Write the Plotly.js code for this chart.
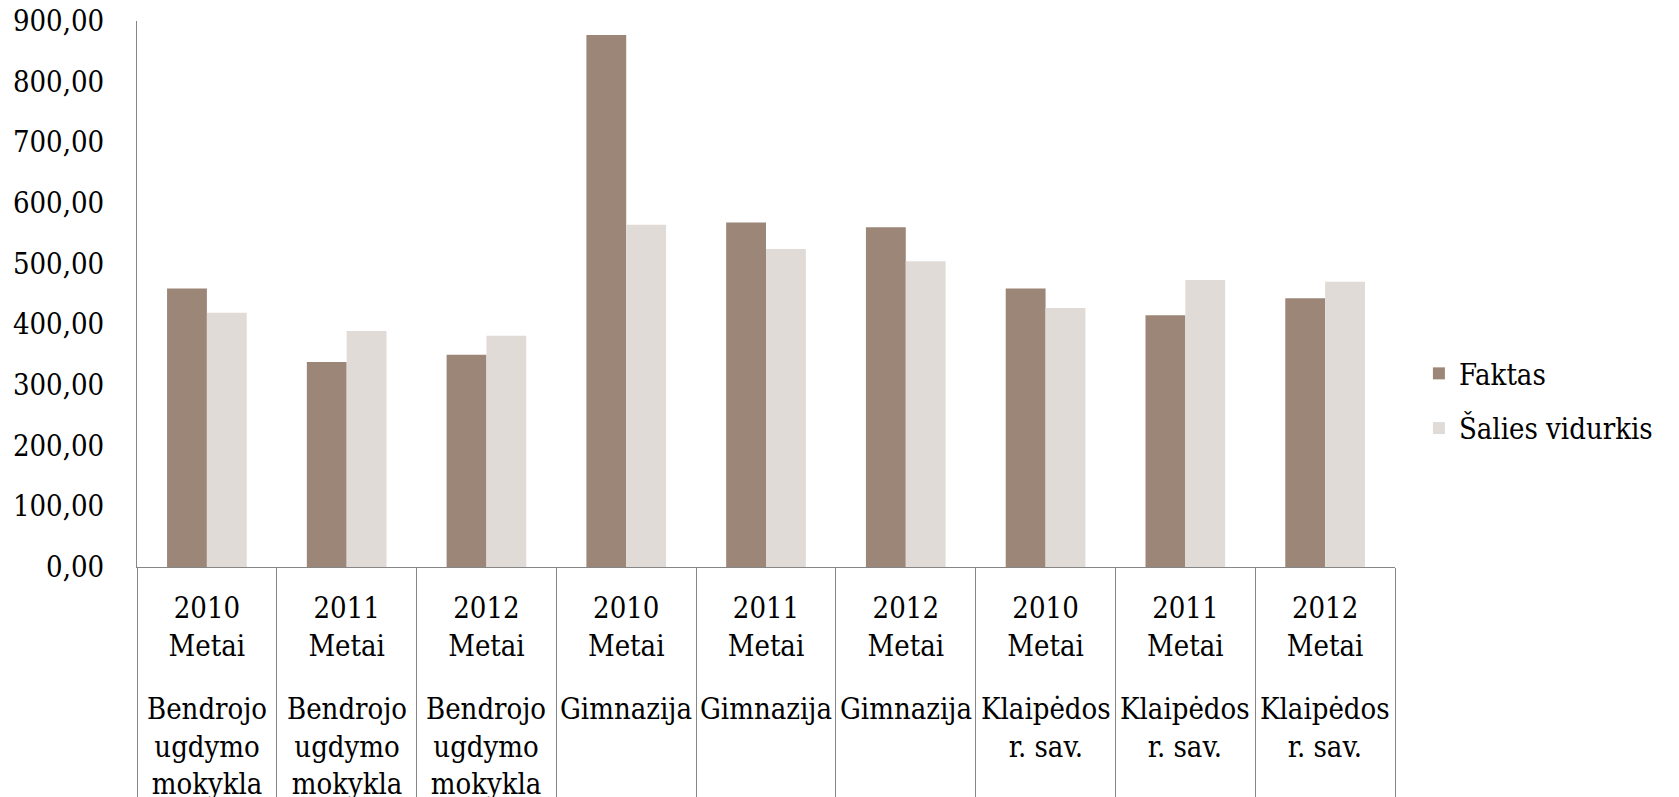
<!DOCTYPE html>
<html>
<head>
<meta charset="utf-8">
<script src="https://cdn.plot.ly/plotly-3.0.1.min.js"></script>
<style>
  html, body { margin: 0; padding: 0; background: #ffffff; }
  #chart { width: 1679px; height: 797px; }
</style>
</head>
<body>
<div id="chart"></div>
<script>
// ---- data ----
const years = ['2010', '2011', '2012', '2010', '2011', '2012', '2010', '2011', '2012'];
const groups = [
  'Bendrojo<br>ugdymo<br>mokykla', 'Bendrojo<br>ugdymo<br>mokykla', 'Bendrojo<br>ugdymo<br>mokykla',
  'Gimnazija', 'Gimnazija', 'Gimnazija',
  'Klaipėdos<br>r. sav.', 'Klaipėdos<br>r. sav.', 'Klaipėdos<br>r. sav.'
];
const yearSuffix = 'Metai';
const faktas = [459, 338, 350, 877, 568, 560, 459, 415, 443];
const saliesVidurkis = [419, 389, 381, 564, 524, 504, 427, 473, 470];
const seriesNames = ['Faktas', 'Šalies vidurkis'];
const yTicks = [0, 100, 200, 300, 400, 500, 600, 700, 800, 900];

// ---- build ----
const FONT = 'DejaVu Serif Condensed, Liberation Serif, serif';
const keys = years.map((y, i) => y + ' ' + groups[i].replace(/<br>/g, ' '));
const tickText = years.map(y => y + '<br>' + yearSuffix);

const traces = [
  {
    type: 'bar', name: seriesNames[0], x: keys, y: faktas,
    marker: { color: '#9C8678' }, legendgroup: 'a', hoverinfo: 'skip'
  },
  {
    type: 'bar', name: seriesNames[1], x: keys, y: saliesVidurkis,
    marker: { color: '#E0DBD7' }, legendgroup: 'b', hoverinfo: 'skip'
  }
];

const annotations = keys.map((k, i) => ({
  x: k, xref: 'x', y: -0.226, yref: 'paper', yanchor: 'top', xanchor: 'center',
  text: groups[i], showarrow: false,
  font: { family: FONT, size: 29, color: '#000000' }
}));

const layout = {
  width: 1679, height: 797,
  paper_bgcolor: '#ffffff', plot_bgcolor: '#ffffff',
  margin: { l: 137, r: 284, t: 21, b: 230 },
  barmode: 'group', bargap: 0.43, bargroupgap: 0,
  font: { family: FONT, size: 29, color: '#000000' },
  xaxis: {
    type: 'category',
    tickmode: 'array', tickvals: keys, ticktext: tickText,
    tickson: 'boundaries', ticks: 'outside', ticklen: 240, tickwidth: 1, tickcolor: '#868686',
    ticklabelstandoff: 15,
    showline: true, linecolor: '#868686', linewidth: 1,
    showgrid: false, zeroline: false,
    tickfont: { family: FONT, size: 29, color: '#000000' },
    fixedrange: true
  },
  yaxis: {
    range: [0, 900], tickmode: 'array', tickvals: yTicks,
    tickformat: '.2f', ticks: '', ticklabelstandoff: 26,
    showline: true, linecolor: '#868686', linewidth: 1,
    showgrid: false, zeroline: false,
    tickfont: { family: FONT, size: 29, color: '#000000' },
    fixedrange: true
  },
  separators: ', ',
  showlegend: true,
  legend: {
    x: 1.019, xanchor: 'left', y: 0.304, yanchor: 'middle',
    traceorder: 'grouped', tracegroupgap: 14,
    font: { family: FONT, size: 29, color: '#000000' },
    bgcolor: 'rgba(0,0,0,0)'
  },
  annotations: annotations
};

Plotly.newPlot('chart', traces, layout, { displayModeBar: false, staticPlot: true });
</script>
</body>
</html>
